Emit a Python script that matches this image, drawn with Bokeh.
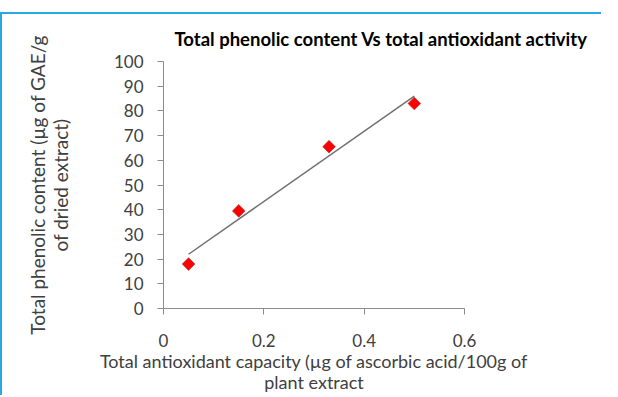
import math
import numpy as np
from bokeh.plotting import figure
from bokeh.models import Range1d, FixedTicker
from bokeh.embed import file_html
from bokeh.resources import INLINE

# data
antioxidant = [0.05, 0.15, 0.33, 0.50]
phenolic = [18.0, 39.5, 65.5, 83.0]
x_ticks = [0, 0.2, 0.4, 0.6]
y_ticks = [0, 10, 20, 30, 40, 50, 60, 70, 80, 90, 100]

title_text = "Total phenolic content Vs total antioxidant activity"
x_label = "Total antioxidant capacity (\u00b5g of ascorbic acid/100g of\nplant extract"
y_label = "Total phenolic content (\u00b5g of GAE/g\nof dried extract)"

# linear trendline
slope, intercept = np.polyfit(antioxidant, phenolic, 1)
trend_x = [min(antioxidant), max(antioxidant)]
trend_y = [slope * v + intercept for v in trend_x]

FONT = "Lato"
TXT = "#404040"
AX = "#8c8c8c"
BLUE = "#2aa8e0"

p = figure(frame_width=301, frame_height=247, output_backend="svg", toolbar_location=None,
           x_range=Range1d(0, 0.6), y_range=Range1d(0, 100),
           min_border_left=161, min_border_right=137, min_border_top=46,
           min_border_bottom=66)

p.title.text = title_text
p.title.text_font = FONT
p.title.text_font_size = "18.5px"
p.title.text_font_style = "bold"
p.title.text_color = "black"
p.title.align = "left"
p.title.offset = 11
p.title.standoff = 23

p.grid.visible = False
p.outline_line_color = None

for ax in (p.xaxis[0], p.yaxis[0]):
    ax.axis_line_color = AX
    ax.major_tick_line_color = AX
    ax.minor_tick_line_color = None
    ax.major_tick_in = 0
    ax.major_tick_out = 6
    ax.major_label_text_font = FONT
    ax.major_label_text_font_size = "17px"
    ax.major_label_text_color = TXT
    ax.axis_label_text_font = FONT
    ax.axis_label_text_font_style = "normal"
    ax.axis_label_text_color = TXT

p.xaxis.axis_label_text_font_size = "18px"
p.yaxis.axis_label_text_font_size = "19px"
p.xaxis.axis_label_text_line_height = 0.97
p.yaxis.axis_label_text_line_height = 1.0
p.xaxis.ticker = FixedTicker(ticks=x_ticks)
p.yaxis.ticker = FixedTicker(ticks=y_ticks)
p.xaxis.major_label_overrides = {0: "0", 0.2: "0.2", 0.4: "0.4", 0.6: "0.6"}
p.xaxis.axis_label = x_label
p.yaxis.axis_label = y_label
p.xaxis.major_label_standoff = 19
p.xaxis.axis_label_standoff = 0
p.yaxis.major_label_standoff = 14
p.yaxis.axis_label_standoff = 39

p.line(trend_x, trend_y, line_color="#707070", line_width=1.5)
p.scatter(antioxidant, phenolic, marker="square", size=9, angle=math.pi / 4,
          fill_color="#ff0000", line_color="#a03030", line_width=0.6)

# light blue frame lines (left and top) of the original figure box
p.styles = {"border-left": f"2px solid {BLUE}", "border-top": f"2px solid {BLUE}",
            "margin-top": "12px"}

open("out.html", "w").write(file_html(p, INLINE))
